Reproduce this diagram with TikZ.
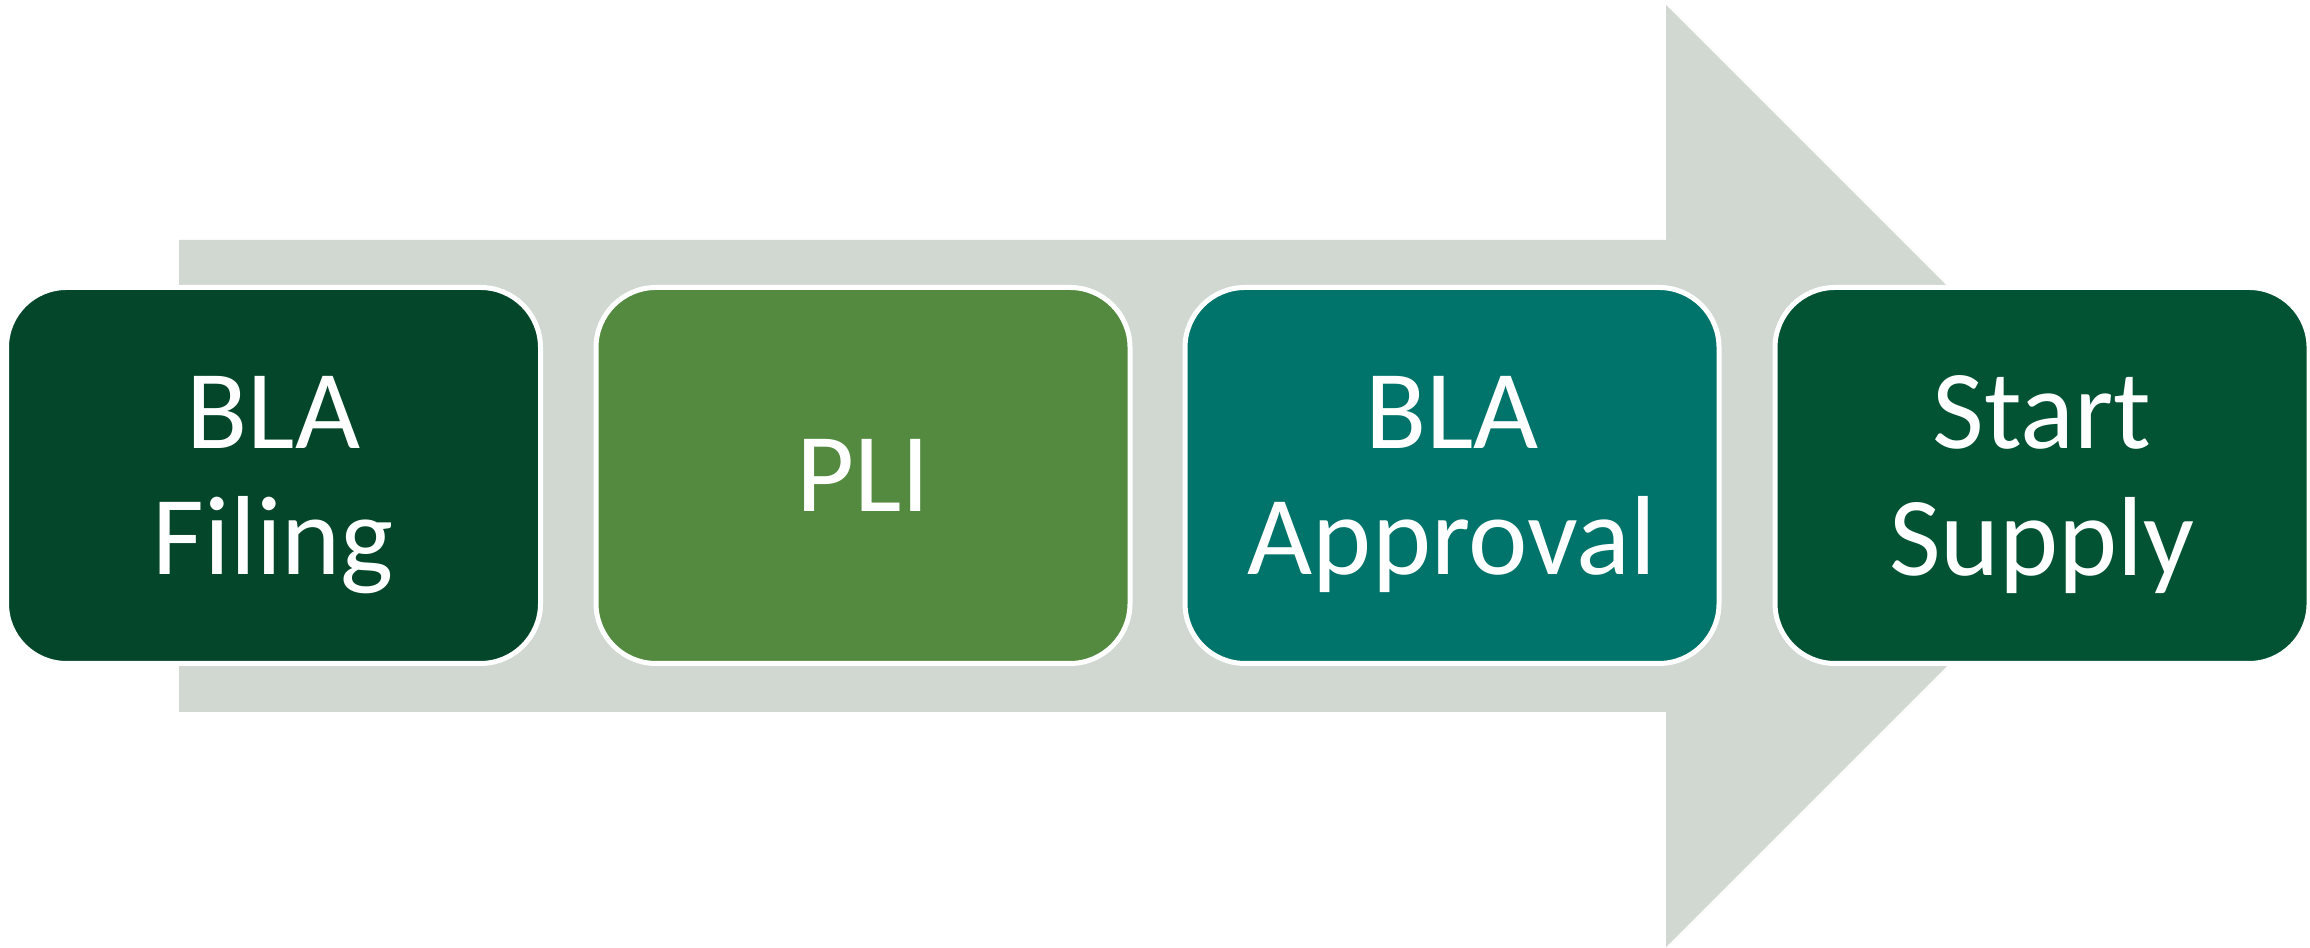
\documentclass[tikz,border=0pt]{standalone}
\usepackage{fontspec}
\setmainfont{Carlito}
\usepackage{xcolor}
\definecolor{arrowgray}{RGB}{209,216,210}
\definecolor{filinggreen}{RGB}{3,70,41}
\definecolor{pligreen}{RGB}{83,138,63}
\definecolor{approvalteal}{RGB}{0,116,106}
\definecolor{supplygreen}{RGB}{1,83,52}

\begin{document}
\begin{tikzpicture}[
  stage/.style={draw=white,line width=0.05cm,rounded corners=0.6cm,
    minimum width=5.34cm,minimum height=3.76cm,inner sep=0pt,
    text=white,align=center,text depth=0pt,
    font=\fontsize{32}{36}\selectfont}
]
\useasboundingbox (0,0) rectangle (23.1,9.48);
\fill[arrowgray] (1.79,2.36) -- (1.79,7.08) -- (16.66,7.08) -- (16.66,9.43)
  -- (21.37,4.72) -- (16.66,0.01) -- (16.66,2.36) -- cycle;
\draw (2.735,4.725) node[stage,fill=filinggreen](filing) {BLA\\Filing};
\draw (8.63,4.725) node[stage,fill=pligreen](pli) {PLI};
\draw (14.52,4.725) node[stage,fill=approvalteal](approval) {BLA\\Approval};
\draw (20.42,4.725) node[stage,fill=supplygreen](supply) {Start\\Supply};
\end{tikzpicture}
\end{document}
